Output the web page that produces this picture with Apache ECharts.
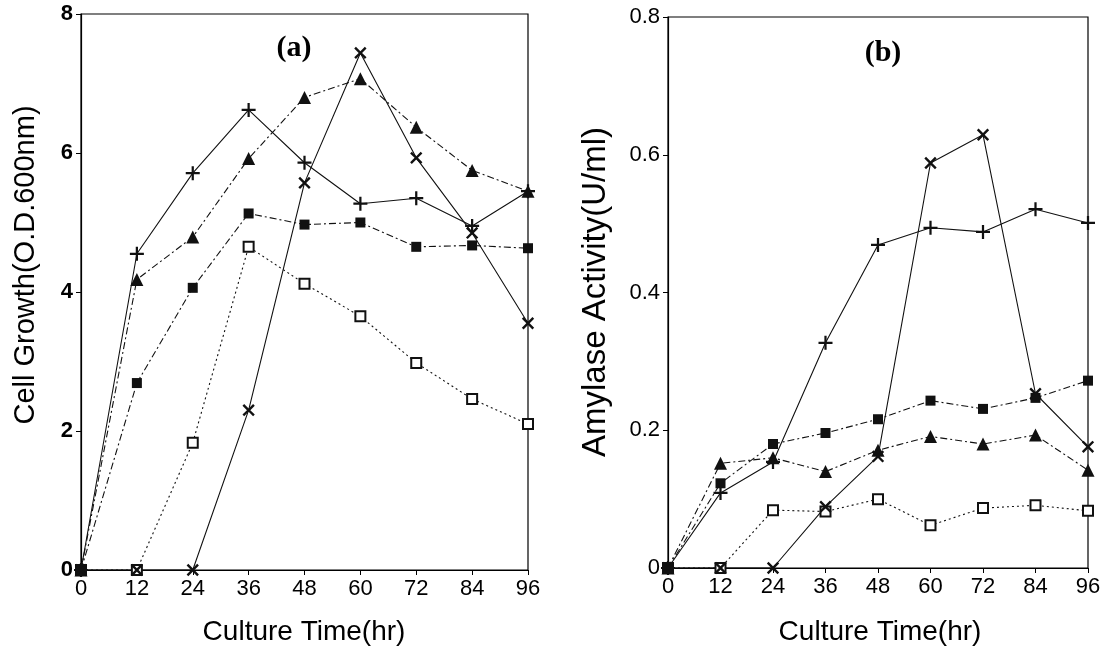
<!DOCTYPE html>
<html>
<head>
<meta charset="utf-8">
<script src="https://cdn.jsdelivr.net/npm/echarts@6/dist/echarts.min.js"></script>
<style>
  html, body { margin: 0; padding: 0; background: #fff; }
  #chart { width: 1115px; height: 654px; }
</style>
</head>
<body>
<div id="chart"></div>
<script>
// culture time (hr)
const hours = [0, 12, 24, 36, 48, 60, 72, 84, 96];
const xTicks = ["0", "12", "24", "36", "48", "60", "72", "84", "96"];

// (a) cell growth, O.D. 600nm
const growthPlus = [0, 4.55, 5.71, 6.62, 5.86, 5.27, 5.35, 4.95, 5.45];
const growthCross = [0, 0, 0, 2.3, 5.57, 7.44, 5.93, 4.85, 3.55];
const growthTri = [0, 4.18, 4.79, 5.92, 6.8, 7.07, 6.37, 5.75, 5.45];
const growthSquare = [0, 2.69, 4.06, 5.13, 4.97, 5.0, 4.65, 4.67, 4.63];
const growthOpen = [0, 0, 1.83, 4.65, 4.12, 3.65, 2.98, 2.46, 2.1];

// (b) amylase activity, U/ml
const amylPlus = [0, 0.109, 0.154, 0.327, 0.469, 0.494, 0.488, 0.521, 0.501];
const amylCross = [0, 0, 0, 0.089, 0.162, 0.588, 0.629, 0.253, 0.176];
const amylTri = [0, 0.152, 0.16, 0.14, 0.171, 0.191, 0.18, 0.193, 0.142];
const amylSquare = [0, 0.123, 0.18, 0.196, 0.216, 0.243, 0.231, 0.247, 0.272];
const amylOpen = [0, 0, 0.084, 0.082, 0.1, 0.062, 0.087, 0.091, 0.083];

const plusPath = "path://M4.2,0H5.8V4.2H10V5.8H5.8V10H4.2V5.8H0V4.2H4.2Z";
const ink = "#111";
const dashDot = [7, 3, 2, 3];
const dotted = [2, 3];

function pairs(vals) {
  return hours.map((h, i) => [h, vals[i]]);
}

function line(idx, vals, sym, size, dash, rotate) {
  return {
    type: "line",
    xAxisIndex: idx,
    yAxisIndex: idx,
    data: pairs(vals),
    symbol: sym,
    symbolSize: size,
    symbolRotate: rotate || 0,
    showSymbol: true,
    animation: false,
    itemStyle: { color: ink, borderColor: ink, borderWidth: sym === "emptyRect" ? 1.2 : 0 },
    lineStyle: { color: ink, width: 1.1, type: dash }
  };
}

const tickLabel = { color: "#000", fontFamily: "Liberation Sans", fontSize: 22, margin: 8 };
const axisLine = { show: true, lineStyle: { color: "#000", width: 1.2 } };
const axisTick = { show: true, length: 5, lineStyle: { color: "#000" } };

let myChart = echarts.init(document.getElementById("chart"));
myChart.setOption({
  backgroundColor: "#fff",
  animation: false,
  grid: [
    { left: 81, top: 14, width: 447, height: 556, show: true, borderColor: "#000", borderWidth: 1.2 },
    { left: 668, top: 17, width: 420, height: 551, show: true, borderColor: "#000", borderWidth: 1.2 }
  ],
  xAxis: [0, 1].map(i => ({
    gridIndex: i,
    type: "value",
    min: 0,
    max: 96,
    interval: 12,
    axisLine: axisLine,
    axisTick: axisTick,
    splitLine: { show: false },
    axisLabel: Object.assign({}, tickLabel, { formatter: v => xTicks[hours.indexOf(v)] })
  })),
  yAxis: [
    {
      gridIndex: 0, type: "value", min: 0, max: 8, interval: 2,
      axisLine: axisLine, axisTick: axisTick, splitLine: { show: false },
      axisLabel: Object.assign({}, tickLabel, { fontWeight: "bold" })
    },
    {
      gridIndex: 1, type: "value", min: 0, max: 0.8, interval: 0.2,
      axisLine: axisLine, axisTick: axisTick, splitLine: { show: false },
      axisLabel: Object.assign({}, tickLabel, { formatter: v => (v === 0 ? "0" : v.toFixed(1)) })
    }
  ],
  graphic: [
    { type: "text", x: 294, y: 48, style: { text: "(a)", font: "bold 30px 'Liberation Serif'", fill: "#000", align: "center", verticalAlign: "middle" } },
    { type: "text", x: 883, y: 53, style: { text: "(b)", font: "bold 30px 'Liberation Serif'", fill: "#000", align: "center", verticalAlign: "middle" } },
    { type: "text", x: 26, y: 265, rotation: Math.PI / 2, style: { text: "Cell Growth(O.D.600nm)", font: "29px 'Liberation Sans'", fill: "#000", align: "center", verticalAlign: "middle" } },
    { type: "text", x: 596, y: 292, rotation: Math.PI / 2, style: { text: "Amylase Activity(U/ml)", font: "33px 'Liberation Sans'", fill: "#000", align: "center", verticalAlign: "middle" } },
    { type: "text", x: 304, y: 632, style: { text: "Culture Time(hr)", font: "28px 'Liberation Sans'", fill: "#000", align: "center", verticalAlign: "middle" } },
    { type: "text", x: 880, y: 632, style: { text: "Culture Time(hr)", font: "28px 'Liberation Sans'", fill: "#000", align: "center", verticalAlign: "middle" } }
  ],
  series: [
    line(0, growthOpen, "emptyRect", 10, dotted),
    line(0, growthSquare, "rect", 10, dashDot),
    line(0, growthTri, "triangle", 13, dashDot),
    line(0, growthPlus, plusPath, 14, "solid"),
    line(0, growthCross, plusPath, 15, "solid", 45),
    line(1, amylOpen, "emptyRect", 10, dotted),
    line(1, amylSquare, "rect", 10, dashDot),
    line(1, amylTri, "triangle", 13, dashDot),
    line(1, amylPlus, plusPath, 14, "solid"),
    line(1, amylCross, plusPath, 15, "solid", 45)
  ]
});
</script>
</body>
</html>
